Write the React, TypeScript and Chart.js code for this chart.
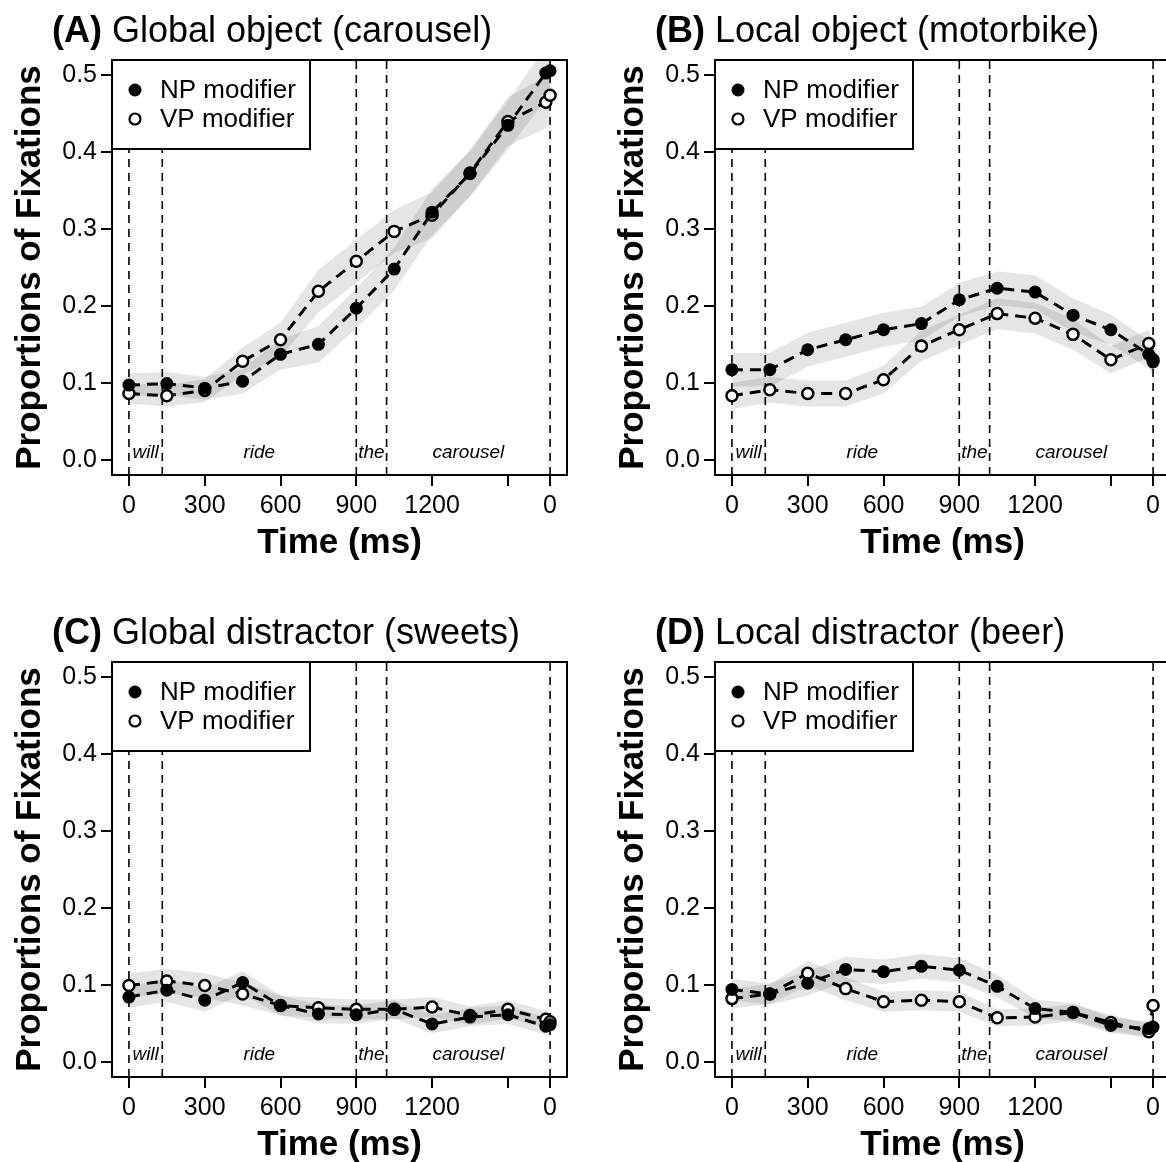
import React, { useEffect, useRef } from 'react';
import { Chart, registerables } from 'chart.js';

Chart.register(...registerables);

const FONT = "'Liberation Sans', Arial, Helvetica, sans-serif";

// time bins (ms); the last bin is the noun offset, relabelled "0"
const times = [0, 150, 300, 450, 600, 750, 900, 1050, 1200, 1350, 1500, 1650, 1667];
const wordOnsets = [0, 132, 900, 1020, 1667];
const words = ['will', 'ride', 'the', 'carousel'];
const xTickValues = [0, 300, 600, 900, 1200, 1500, 1667];
const xTickLabels = ['0', '300', '600', '900', '1200', '', '0'];
const yTickValues = [0, 0.1, 0.2, 0.3, 0.4, 0.5];
const seriesNames = ['NP modifier', 'VP modifier'];

const panelLetters = ['(A)', '(B)', '(C)', '(D)'];
const panelTitles = [
  'Global object (carousel)',
  'Local object (motorbike)',
  'Global distractor (sweets)',
  'Local distractor (beer)',
];

// (A) Global object
const npA = [0.097, 0.099, 0.093, 0.102, 0.137, 0.150, 0.197, 0.248, 0.322, 0.372, 0.435, 0.503, 0.506];
const vpA = [0.086, 0.083, 0.090, 0.128, 0.156, 0.219, 0.258, 0.297, 0.318, 0.373, 0.440, 0.465, 0.474];
const npSeA = [0.015, 0.015, 0.015, 0.016, 0.020, 0.024, 0.026, 0.028, 0.030, 0.030, 0.032, 0.034, 0.034];
const vpSeA = [0.013, 0.014, 0.015, 0.018, 0.022, 0.028, 0.028, 0.028, 0.030, 0.030, 0.032, 0.034, 0.034];

// (B) Local object
const npB = [0.117, 0.117, 0.143, 0.156, 0.169, 0.177, 0.208, 0.223, 0.218, 0.188, 0.169, 0.137, 0.127];
const vpB = [0.083, 0.091, 0.086, 0.086, 0.104, 0.148, 0.169, 0.190, 0.184, 0.163, 0.130, 0.151, 0.130];
const npSeB = [0.022, 0.022, 0.022, 0.022, 0.022, 0.022, 0.022, 0.022, 0.022, 0.022, 0.020, 0.018, 0.018];
const vpSeB = [0.017, 0.017, 0.017, 0.017, 0.018, 0.020, 0.020, 0.020, 0.020, 0.020, 0.018, 0.018, 0.018];

// (C) Global distractor
const npC = [0.084, 0.093, 0.080, 0.103, 0.073, 0.062, 0.061, 0.068, 0.049, 0.058, 0.061, 0.046, 0.048];
const vpC = [0.099, 0.105, 0.099, 0.088, 0.073, 0.070, 0.068, 0.068, 0.071, 0.060, 0.068, 0.055, 0.052];
const npSeC = [0.014, 0.015, 0.015, 0.015, 0.013, 0.012, 0.012, 0.012, 0.012, 0.012, 0.012, 0.011, 0.011];
const vpSeC = [0.016, 0.016, 0.016, 0.015, 0.013, 0.013, 0.013, 0.013, 0.013, 0.012, 0.012, 0.011, 0.011];

// (D) Local distractor
const npD = [0.094, 0.088, 0.102, 0.120, 0.117, 0.124, 0.119, 0.098, 0.069, 0.064, 0.047, 0.043, 0.045];
const vpD = [0.082, 0.088, 0.115, 0.095, 0.078, 0.080, 0.078, 0.057, 0.058, 0.064, 0.051, 0.039, 0.073];
const npSeD = [0.014, 0.014, 0.016, 0.016, 0.016, 0.016, 0.016, 0.015, 0.012, 0.012, 0.010, 0.010, 0.010];
const vpSeD = [0.013, 0.013, 0.016, 0.015, 0.013, 0.013, 0.013, 0.011, 0.011, 0.011, 0.010, 0.010, 0.010];

const panels = [
  { np: npA, vp: vpA, npSe: npSeA, vpSe: vpSeA },
  { np: npB, vp: vpB, npSe: npSeB, vpSe: vpSeB },
  { np: npC, vp: vpC, npSe: npSeC, vpSe: vpSeC },
  { np: npD, vp: vpD, npSe: npSeD, vpSe: vpSeD },
];

const CW = 603;
const CH = 602;

function pts(vals: number[]) {
  return times.map((t, i) => ({ x: t, y: vals[i] }));
}
function band(vals: number[], se: number[], sign: number) {
  return times.map((t, i) => ({ x: t, y: vals[i] + sign * se[i] }));
}

function makeDecor(letter: string, title: string) {
  return {
    id: 'decor' + letter,
    beforeDatasetsDraw(chart: any) {
      const { ctx, chartArea } = chart;
      const xs = chart.scales.x;
      ctx.save();
      ctx.strokeStyle = '#000';
      ctx.lineWidth = 1.6;
      ctx.setLineDash([8, 6]);
      wordOnsets.forEach((v) => {
        const px = xs.getPixelForValue(v);
        ctx.beginPath();
        ctx.moveTo(px, chartArea.bottom);
        ctx.lineTo(px, chartArea.top);
        ctx.stroke();
      });
      ctx.restore();
    },
    afterDraw(chart: any) {
      const { ctx, chartArea } = chart;
      const xs = chart.scales.x;
      const ys = chart.scales.y;
      ctx.save();
      // word labels
      ctx.fillStyle = '#000';
      ctx.font = `italic 19px ${FONT}`;
      ctx.textAlign = 'center';
      ctx.textBaseline = 'middle';
      const wy = ys.getPixelForValue(0) - 7;
      words.forEach((w, i) => {
        const mid = (wordOnsets[i] + wordOnsets[i + 1]) / 2;
        ctx.fillText(w, xs.getPixelForValue(mid), wy);
      });
      // legend
      const lx = chartArea.left;
      const ly = chartArea.top;
      ctx.fillStyle = '#fff';
      ctx.fillRect(lx, ly, 198, 89);
      ctx.strokeStyle = '#000';
      ctx.lineWidth = 2;
      ctx.strokeRect(lx, ly, 198, 89);
      ctx.font = `26px ${FONT}`;
      ctx.textAlign = 'left';
      ctx.textBaseline = 'middle';
      seriesNames.forEach((name, i) => {
        const cy = ly + 30 + i * 29;
        ctx.beginPath();
        ctx.arc(lx + 23, cy, i === 0 ? 6.5 : 5.5, 0, Math.PI * 2);
        if (i === 0) {
          ctx.fillStyle = '#000';
          ctx.fill();
        } else {
          ctx.fillStyle = '#fff';
          ctx.fill();
          ctx.lineWidth = 2.2;
          ctx.strokeStyle = '#000';
          ctx.stroke();
        }
        ctx.fillStyle = '#000';
        ctx.fillText(name, lx + 48, cy + 1);
      });
      // plot box
      ctx.strokeStyle = '#000';
      ctx.lineWidth = 2;
      ctx.strokeRect(chartArea.left, chartArea.top, chartArea.right - chartArea.left, chartArea.bottom - chartArea.top);
      // panel title
      ctx.textAlign = 'left';
      ctx.textBaseline = 'alphabetic';
      ctx.fillStyle = '#000';
      ctx.font = `bold 36px ${FONT}`;
      ctx.fillText(letter, 52, 42);
      const w = ctx.measureText(letter).width;
      ctx.font = `36px ${FONT}`;
      ctx.fillText(' ' + title, 52 + w, 42);
      ctx.restore();
    },
  };
}

function Panel({ index }: { index: number }) {
  const ref = useRef<HTMLCanvasElement | null>(null);
  useEffect(() => {
    const p = panels[index];
    const canvas = ref.current!;
    const chart = new Chart(canvas, {
      type: 'line',
      data: {
        datasets: [
          {
            label: seriesNames[0],
            data: pts(p.np),
            borderColor: '#000',
            borderWidth: 3,
            borderDash: [11, 7],
            pointRadius: 6.5,
            pointBackgroundColor: '#000',
            pointBorderColor: '#000',
            pointBorderWidth: 0,
            fill: false,
            tension: 0,
          },
          {
            label: seriesNames[1],
            data: pts(p.vp),
            borderColor: '#000',
            borderWidth: 3,
            borderDash: [11, 7],
            pointRadius: 5.5,
            pointBackgroundColor: '#fff',
            pointBorderColor: '#000',
            pointBorderWidth: 2.5,
            fill: false,
            tension: 0,
          },
          {
            label: 'npHi',
            data: band(p.np, p.npSe, 1),
            borderColor: 'rgba(0,0,0,0)',
            borderWidth: 0,
            pointRadius: 0,
            fill: false,
          },
          {
            label: 'npLo',
            data: band(p.np, p.npSe, -1),
            borderColor: 'rgba(0,0,0,0)',
            borderWidth: 0,
            pointRadius: 0,
            fill: '-1',
            backgroundColor: 'rgba(0,0,0,0.1)',
          },
          {
            label: 'vpHi',
            data: band(p.vp, p.vpSe, 1),
            borderColor: 'rgba(0,0,0,0)',
            borderWidth: 0,
            pointRadius: 0,
            fill: false,
          },
          {
            label: 'vpLo',
            data: band(p.vp, p.vpSe, -1),
            borderColor: 'rgba(0,0,0,0)',
            borderWidth: 0,
            pointRadius: 0,
            fill: '-1',
            backgroundColor: 'rgba(0,0,0,0.1)',
          },
        ],
      },
      options: {
        animation: false,
        responsive: false,
        devicePixelRatio: 1,
        layout: { padding: { left: 0, top: 60, right: 36, bottom: 0 } },
        plugins: { legend: { display: false }, tooltip: { enabled: false }, title: { display: false } },
        elements: { line: { tension: 0 } },
        scales: {
          x: {
            type: 'linear',
            min: -67,
            max: 1734,
            afterBuildTicks: (scale: any) => {
              scale.ticks = xTickValues.map((v) => ({ value: v }));
            },
            afterFit: (scale: any) => {
              scale.height = CH - 475;
            },
            ticks: {
              autoSkip: false,
              maxRotation: 0,
              minRotation: 0,
              padding: 5,
              color: '#000',
              font: { family: FONT, size: 25 },
              callback: (_v: any, i: number) => xTickLabels[i],
            },
            grid: { drawOnChartArea: false, drawTicks: true, tickLength: 11, color: '#000', lineWidth: 2 },
            border: { display: true, color: '#000', width: 2 },
            title: {
              display: true,
              text: 'Time (ms)',
              color: '#000',
              font: { family: FONT, size: 35, weight: 'bold' },
              padding: { top: 0, bottom: 38 },
            },
          },
          y: {
            type: 'linear',
            min: -0.02,
            max: 0.52,
            afterBuildTicks: (scale: any) => {
              scale.ticks = yTickValues.map((v) => ({ value: v }));
            },
            afterFit: (scale: any) => {
              scale.width = 112;
            },
            ticks: {
              autoSkip: false,
              padding: 4,
              color: '#000',
              font: { family: FONT, size: 25 },
              callback: (v: any) => Number(v).toFixed(1),
            },
            grid: { drawOnChartArea: false, drawTicks: true, tickLength: 11, color: '#000', lineWidth: 2 },
            border: { display: true, color: '#000', width: 2 },
            title: {
              display: true,
              text: 'Proportions of Fixations',
              color: '#000',
              font: { family: FONT, size: 35, weight: 'bold' },
              padding: { top: 9, bottom: 0 },
            },
          },
        },
      },
      plugins: [makeDecor(panelLetters[index], panelTitles[index])],
    } as any);
    return () => chart.destroy();
  }, [index]);
  const left = (index % 2) * CW;
  const top = Math.floor(index / 2) * CH;
  return (
    <canvas
      ref={ref}
      width={CW}
      height={CH}
      style={{ position: 'absolute', left, top, width: CW, height: CH }}
    />
  );
}

export default function App() {
  return (
    <div
      style={{
        position: 'absolute',
        left: 0,
        top: 0,
        width: 1166,
        height: 1162,
        overflow: 'hidden',
        background: '#fff',
      }}
    >
      {[0, 1, 2, 3].map((i) => (
        <Panel key={i} index={i} />
      ))}
    </div>
  );
}
